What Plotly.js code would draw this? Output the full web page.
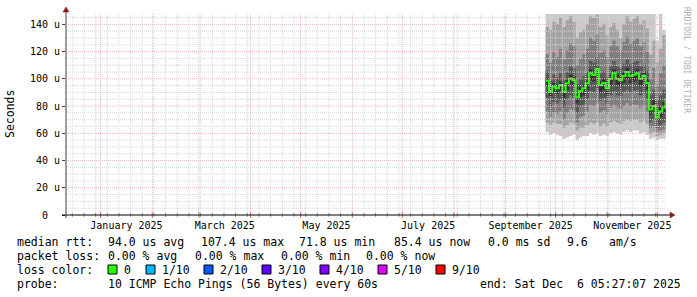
<!DOCTYPE html>
<html><head><meta charset="utf-8">
<script src="https://cdn.plot.ly/plotly-3.0.1.min.js"></script>
<style>html,body{margin:0;padding:0;background:#fff;}#chart{width:697px;height:297px;}</style>
</head><body><div id="chart"></div>
<script>
// ---- data (microseconds) ----
const dates = ["2025-09-25","2025-09-27","2025-09-29","2025-10-01","2025-10-03","2025-10-05","2025-10-07","2025-10-09","2025-10-11","2025-10-13","2025-10-15","2025-10-17","2025-10-19","2025-10-21","2025-10-23","2025-10-25","2025-10-27","2025-10-29","2025-10-31","2025-11-02","2025-11-04","2025-11-06","2025-11-08","2025-11-10","2025-11-12","2025-11-14","2025-11-16","2025-11-18","2025-11-20","2025-11-22","2025-11-24","2025-11-26","2025-11-28","2025-11-30","2025-12-02","2025-12-04","2025-12-06"];
const median = [98.6,90.5,94.2,93.0,95.4,90.5,96.7,100.3,99.0,86.4,91.0,93.0,96.7,104.0,102.8,107.4,95.4,97.0,93.0,100.0,104.0,100.0,99.0,102.0,105.0,102.0,103.0,104.0,100.0,102.0,97.0,77.5,80.0,71.8,76.0,79.0,85.4];
// sorted ping pairs: ping1/ping10 (outer) ... ping5/ping6 (inner)
const lo1 = [61,59,60,59,58,56,57,58,59,55,57,58,58,60,59,60,58,59,58,60,61,60,59,61,62,61,62,62,60,61,59,56,57,55,56,56,58];
const hi1 = [160,158,162,159,165,160,163,166,161,155,158,160,162,168,166,170,160,162,157,161,164,159,156,163,168,164,166,168,162,165,160,152,150,128,155,136,140];
const lo2 = [68,66,68,67,67,64,66,68,67,62,64,64,66,68,67,68,65,67,65,68,69,68,67,69,70,69,70,70,68,69,67,60,61,58,59,60,62];
const hi2 = [138,136,142,140,145,138,143,146,142,130,134,136,140,146,145,147,138,140,132,138,141,136,130,140,146,142,144,146,140,143,137,118,128,112,122,132,126];
const lo3 = [76,72,75,74,76,70,75,78,77,68,72,73,76,81,80,82,75,77,74,79,81,79,78,80,82,80,81,81,79,80,76,64,65,61,62,63,66];
const hi3 = [118,112,120,116,122,114,121,126,124,110,115,118,122,130,128,132,119,121,116,124,128,124,121,127,131,126,128,130,124,127,120,100,108,96,104,110,112];
const lo4 = [86,80,83,82,84,79,85,88,86,75,80,81,85,91,90,93,84,86,82,88,91,88,87,90,92,90,91,92,88,90,85,68,70,64,66,68,72];
const hi4 = [106,99,103,101,104,99,105,109,108,96,100,102,105,113,112,116,104,106,101,109,113,109,108,111,114,111,112,113,109,111,106,88,92,84,88,92,96];
const lo5 = [95,87,90,89,91,86,92,96,94,82,87,88,92,99,98,102,90,92,88,95,99,95,94,97,100,97,98,99,95,97,92,74,76,69,72,75,80];
const hi5 = [101,93,97,96,98,93,99,103,102,89,94,96,99,107,106,110,98,100,96,103,107,103,102,105,108,105,106,107,103,105,100,80,84,75,79,83,88];

const yTickVals = [0,20,40,60,80,100,120,140];
const yTickText = ["0\u00a0\u00a0","20 u","40 u","60 u","80 u","100 u","120 u","140 u"];
const xLabelDates = ["2025-01-16 12:00","2025-03-16 12:00","2025-05-16 12:00","2025-07-16 12:00","2025-09-16","2025-11-16"];
const xLabelText = ["January 2025","March 2025","May 2025","July 2025","September 2025","November 2025"];

const legendLine1 = ["median rtt:","94.0 us avg","107.4 us max","71.8 us min","85.4 us now","0.0 ms sd","9.6","am/s"];
const legendLine2 = ["packet loss:","0.00 % avg","0.00 % max","0.00 % min","0.00 % now"];
const lossLabels = ["0","1/10","2/10","3/10","4/10","5/10","9/10"];
const lossColors = ["#26ff00","#00b8ff","#0059ff","#5e00ff","#7e00ff","#dd00ff","#ff0000"];
const probeText = ["probe:","10 ICMP Echo Pings (56 Bytes) every 60s","end: Sat Dec  6 05:27:07 2025"];

// ---- layout geometry ----
const W=697,H=297,L=66,R=31,T=14,B=82;
const pw=W-L-R, ph=H-T-B;
const px=x=>(x-L)/pw, py=y=>(T+ph-y)/ph;
const FONT='DejaVu Sans Mono';

const bandColors=['#cacaca','#a4a4a4','#7e7e7e','#585858','#323232'];
const lows=[lo1,lo2,lo3,lo4,lo5], highs=[hi1,hi2,hi3,hi4,hi5];
const traces=[];
for(let i=0;i<5;i++){
  traces.push({x:dates,y:lows[i],type:'scatter',mode:'lines',line:{width:0,shape:'hv'},hoverinfo:'skip',showlegend:false});
  traces.push({x:dates,y:highs[i],type:'scatter',mode:'lines',line:{width:0,shape:'hv'},fill:'tonexty',fillcolor:bandColors[i],hoverinfo:'skip',showlegend:false});
}
traces.push({x:dates,y:median,type:'scatter',mode:'lines',line:{color:'#26ff00',width:2,shape:'hv'},showlegend:false});

// ---- grid as shapes above data ----
const DAY=86400000;
const ymd=t=>new Date(t).toISOString().slice(0,10);
const monthStarts=[];for(let m=0;m<12;m++)monthStarts.push(ymd(Date.UTC(2025,m,1)));
const weekLines=[];for(let t=Date.UTC(2024,11,15);t<=Date.UTC(2025,11,6);t+=7*DAY){const s=ymd(t);if(!monthStarts.includes(s))weekLines.push(s);}
const shapes=[];
const minorCol='#d6d6d6', majorCol='#f0b4b4', dash='1px,1px';
weekLines.forEach(d=>shapes.push({type:'line',xref:'x',yref:'paper',x0:d,x1:d,y0:0,y1:1,line:{color:minorCol,width:1,dash:dash},layer:'above'}));
for(let v=5;v<=145;v+=5){ if(v%20===0)continue; shapes.push({type:'line',xref:'paper',yref:'y',x0:0,x1:1,y0:v,y1:v,line:{color:minorCol,width:1,dash:dash},layer:'above'}); }
monthStarts.forEach(d=>shapes.push({type:'line',xref:'x',yref:'paper',x0:d,x1:d,y0:0,y1:1,line:{color:majorCol,width:1,dash:dash},layer:'above'}));
yTickVals.forEach(v=>{ if(v>0) shapes.push({type:'line',xref:'paper',yref:'y',x0:0,x1:1,y0:v,y1:v,line:{color:majorCol,width:1,dash:dash},layer:'above'}); });
// tick marks on x axis
weekLines.forEach(d=>shapes.push({type:'line',xref:'x',yref:'paper',x0:d,x1:d,y0:py(217),y1:py(213),line:{color:'#999',width:1},layer:'above'}));
monthStarts.forEach(d=>shapes.push({type:'line',xref:'x',yref:'paper',x0:d,x1:d,y0:py(218),y1:py(212),line:{color:'#c07070',width:1},layer:'above'}));
// axes + arrows
shapes.push({type:'line',xref:'paper',yref:'paper',x0:px(62),x1:px(671),y0:0,y1:0,line:{color:'#000',width:1},layer:'above'});
shapes.push({type:'line',xref:'paper',yref:'paper',x0:0,x1:0,y0:py(218),y1:py(9),line:{color:'#404040',width:1},layer:'above'});
const tri=(pts)=>'M'+pts.map(p=>px(p[0])+','+py(p[1])).join(' L')+' Z';
shapes.push({type:'path',xref:'paper',yref:'paper',path:tri([[63,12],[69,12],[66,7]]),fillcolor:'#8b1a1a',line:{color:'#8b1a1a',width:0.5},layer:'above'});
shapes.push({type:'path',xref:'paper',yref:'paper',path:tri([[670,212],[670,218],[675,215]]),fillcolor:'#8b1a1a',line:{color:'#8b1a1a',width:0.5},layer:'above'});

// ---- legend texts ----
const annotations=[];
const LF={family:FONT,size:11.5,color:'#000'};
const addText=(x,y,text,anchor)=>annotations.push({xref:'paper',yref:'paper',x:px(x),y:py(y),text:text,showarrow:false,xanchor:anchor||'left',yanchor:'middle',font:LF,borderpad:0});
const l1x=[16,107,200,298,393,487,566,608];
legendLine1.forEach((t,i)=>addText(l1x[i],242,t));
const l2x=[16,107,194,280,365];
legendLine2.forEach((t,i)=>addText(l2x[i],256,t));
addText(16,270,'loss color:');
const sqx=[108,146,204,262,320,378,436];
lossLabels.forEach((t,i)=>{
  shapes.push({type:'rect',xref:'paper',yref:'paper',x0:px(sqx[i]),x1:px(sqx[i]+9),y0:py(274),y1:py(265),fillcolor:lossColors[i],line:{color:'#000',width:1}});
  addText(sqx[i]+15,270,t);
});
addText(16,284,probeText[0]);
addText(107,284,probeText[1]);
addText(682,284,probeText[2].replace(/  /g,' \u00a0'),'right');
// y title
annotations.push({xref:'paper',yref:'paper',x:px(10),y:py(114),text:'Seconds',textangle:-90,showarrow:false,xanchor:'center',yanchor:'middle',font:LF});
// watermark
annotations.push({xref:'paper',yref:'paper',x:px(686),y:py(60),text:'RRDTOOL / TOBI OETIKER',textangle:90,showarrow:false,xanchor:'center',yanchor:'middle',font:{family:FONT,size:8,color:'#b0b0b0'}});

const layout={
  width:W,height:H,margin:{l:L,r:R,t:T,b:B,pad:0},
  paper_bgcolor:'#ffffff',plot_bgcolor:'#ffffff',showlegend:false,
  xaxis:{type:'date',range:['2024-12-11 05:27:07','2025-12-06 05:27:07'],tickmode:'array',tickvals:xLabelDates,ticktext:xLabelText,ticks:'',ticklabelstandoff:3,showgrid:false,zeroline:false,showline:false,tickfont:{family:FONT,size:10,color:'#000'},fixedrange:true},
  yaxis:{range:[0,147.6],tickmode:'array',tickvals:yTickVals,ticktext:yTickText,ticks:'outside',ticklen:3,tickcolor:'#404040',showgrid:false,zeroline:false,showline:false,tickfont:{family:FONT,size:10,color:'#000'},fixedrange:true},
  shapes:shapes,annotations:annotations
};
Plotly.newPlot('chart',traces,layout,{displayModeBar:false,staticPlot:true});
</script></body></html>
